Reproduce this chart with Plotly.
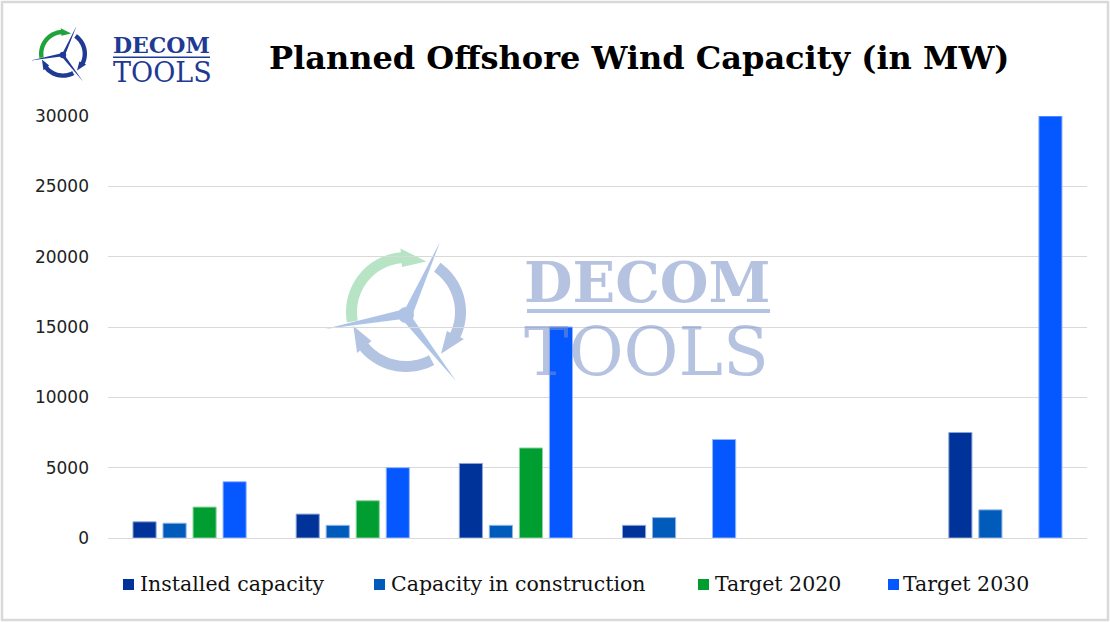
import numpy as np
import plotly.graph_objects as go

# ---------------- data ----------------
categories = ["Country A", "Country B", "Country C", "Country D", "Country E", "Country F"]
series_names = ["Installed capacity", "Capacity in construction", "Target 2020", "Target 2030"]
installed = [1150, 1700, 5300, 900, None, 7500]
in_construction = [1050, 900, 900, 1450, None, 2000]
target_2020 = [2200, 2650, 6400, None, None, None]
target_2030 = [4000, 5000, 15000, 7000, None, 30000]
y_ticks = [0, 5000, 10000, 15000, 20000, 25000, 30000]
title_text = "Planned Offshore Wind Capacity (in MW)"

colors = ["#003399", "#005BBB", "#009E30", "#0557FF"]
line_colors = ["#8da4d6", "#8fb3e6", "#8fd3a3", "#93b5ff"]

# ---------------- geometry helpers (pixel -> paper) ----------------
WIDTH, HEIGHT = 1110, 622
L, R, T, B = 108, 1087, 116, 538
PW, PH = R - L, B - T


def px(x):
    return (x - L) / PW


def py(y):
    return (B - y) / PH


def path_from(points):
    return "M " + " L ".join(f"{px(x):.5f},{py(y):.5f}" for x, y in points) + " Z"


def arc_arrow(cx, cy, r_in, r_out, a0, a1, tip, head=0.35):
    pts = []
    for a in np.linspace(a0, a1, 30):
        r = np.radians(a)
        pts.append((cx + r_out * np.cos(r), cy - r_out * np.sin(r)))
    th = (r_out - r_in) * head
    ra = np.radians(a1)
    rt = np.radians(tip)
    rm = (r_in + r_out) / 2
    pts.append((cx + (r_out + th) * np.cos(ra), cy - (r_out + th) * np.sin(ra)))
    pts.append((cx + rm * np.cos(rt), cy - rm * np.sin(rt)))
    pts.append((cx + (r_in - th) * np.cos(ra), cy - (r_in - th) * np.sin(ra)))
    for a in np.linspace(a1, a0, 30):
        r = np.radians(a)
        pts.append((cx + r_in * np.cos(r), cy - r_in * np.sin(r)))
    return pts


def blade(hx, hy, tx, ty, w):
    dx, dy = tx - hx, ty - hy
    n = np.hypot(dx, dy)
    ux, uy = -dy / n, dx / n
    return [(hx + ux * w, hy + uy * w), (tx, ty), (hx - ux * w * 0.6, hy - uy * w * 0.6)]


def logo_shapes(hx, hy, s, green, blue, bladec, layer, bw=6):
    shapes = []
    r_out, r_in = 60 * s, 49 * s
    arcs = [((190, 95, 68), green), ((55, -25, -50), blue), ((-62, -140, -165), blue)]
    for (a0, a1, tp), c in arcs:
        shapes.append(dict(type="path", xref="paper", yref="paper", layer=layer,
                           path=path_from(arc_arrow(hx, hy - 3 * s, r_in, r_out, a0, a1, tp)),
                           fillcolor=c, line=dict(width=0)))
    tips = [(34, -73), (-81, 14), (50, 66)]
    for tx, ty in tips:
        shapes.append(dict(type="path", xref="paper", yref="paper", layer=layer,
                           path=path_from(blade(hx, hy, hx + tx * s, hy + ty * s, bw * s)),
                           fillcolor=bladec, line=dict(width=0)))
    shapes.append(dict(type="circle", xref="paper", yref="paper", layer=layer,
                       x0=px(hx - 8 * s), x1=px(hx + 8 * s), y0=py(hy + 8 * s), y1=py(hy - 8 * s),
                       fillcolor=bladec, line=dict(width=0)))
    return shapes


# ---------------- figure ----------------
fig = go.Figure()
for name, vals, c, lc in zip(series_names, [installed, in_construction, target_2020, target_2030], colors, line_colors):
    fig.add_trace(go.Bar(x=categories, y=vals, name=name, showlegend=False,
                         marker=dict(color=c, line=dict(color=lc, width=1))))

shapes = []
# watermark (behind bars and grid)
shapes += logo_shapes(406, 315, 1.0, "#b7e4c4", "#b3c3e2", "#aec3e6", "below")
shapes.append(dict(type="rect", xref="paper", yref="paper", layer="below",
                   x0=px(527), x1=px(770), y0=py(313), y1=py(309), fillcolor="#b3c3e2", line=dict(width=0)))
# small logo
shapes += logo_shapes(63, 55, 0.4, "#1fa33a", "#1f3a93", "#1f3a93", "above", bw=5)
shapes.append(dict(type="rect", xref="paper", yref="paper", layer="above",
                   x0=px(113), x1=px(210), y0=py(58), y1=py(56.5), fillcolor="#1f3a93", line=dict(width=0)))
# outer border
shapes.append(dict(type="rect", xref="paper", yref="paper", layer="above",
                   x0=px(2), x1=px(1108), y0=py(620), y1=py(2), line=dict(color="#d9d9d9", width=2.5)))

annotations = [
    dict(text="<b>" + title_text + "</b>", x=px(639), y=py(58), xref="paper", yref="paper",
         xanchor="center", yanchor="middle", showarrow=False,
         font=dict(family="DejaVu Serif", size=32, color="#000000")),
    dict(text="<b>DECOM</b><br><span style='font-size:27px'>TOOLS</span>", x=px(111), y=py(60),
         xref="paper", yref="paper", xanchor="left", yanchor="middle", align="left", showarrow=False,
         font=dict(family="DejaVu Serif", size=22, color="#1f3a93")),
    dict(text="<b>DECOM</b><br><span style='font-size:67px'>TOOLS</span>", x=px(522), y=py(320),
         xref="paper", yref="paper", xanchor="left", yanchor="middle", align="left", showarrow=False,
         font=dict(family="DejaVu Serif", size=56, color="rgba(120,145,200,0.55)")),
]

# custom legend (square marker + label)
legend_square_x = [123, 374, 698, 888]
legend_text_x = [140, 391, 715, 903]
for name, c, sx, tx in zip(series_names, colors, legend_square_x, legend_text_x):
    shapes.append(dict(type="rect", xref="paper", yref="paper", layer="above",
                       x0=px(sx), x1=px(sx + 11), y0=py(590), y1=py(579), fillcolor=c, line=dict(width=0)))
    annotations.append(dict(text=name, x=px(tx - 2), y=py(584), xref="paper", yref="paper",
                            xanchor="left", yanchor="middle", showarrow=False,
                            font=dict(family="DejaVu Serif", size=20.5, color="#111111")))

fig.update_layout(
    width=WIDTH, height=HEIGHT, autosize=False,
    margin=dict(l=L, r=WIDTH - R, t=T, b=HEIGHT - B, pad=0),
    paper_bgcolor="white", plot_bgcolor="white",
    barmode="group", bargap=0.264, bargroupgap=0.23,
    showlegend=False,
    shapes=shapes, annotations=annotations,
)
fig.update_xaxes(showticklabels=False, showgrid=False, zeroline=False, showline=False, ticks="")
fig.update_yaxes(range=[0, 30000], tickvals=y_ticks, ticktext=[str(v) for v in y_ticks],
                 showgrid=True, gridcolor="#d9d9d9", gridwidth=1, zeroline=True, zerolinecolor="#d9d9d9",
                 zerolinewidth=1, showline=False, ticks="", ticklabelstandoff=18,
                 tickfont=dict(family="DejaVu Sans", size=17, color="#222222"))

fig.write_html("out.html", config={"displayModeBar": False},
               post_script="document.body.style.margin='0';document.body.style.overflow='hidden';")
